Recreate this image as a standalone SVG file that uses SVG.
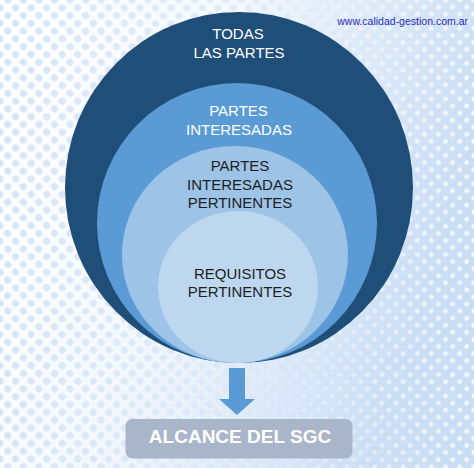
<svg xmlns="http://www.w3.org/2000/svg" width="474" height="468" viewBox="0 0 474 468">
  <defs>
    <linearGradient id="bg" x1="0" y1="0" x2="1" y2="0.3">
      <stop offset="0" stop-color="#ffffff"/>
      <stop offset="0.45" stop-color="#f4f8fd"/>
      <stop offset="1" stop-color="#c9ddf4"/>
    </linearGradient>
    <pattern id="dots" width="11" height="11" patternUnits="userSpaceOnUse" patternTransform="rotate(45)">
      <circle cx="5.5" cy="5.5" r="3.6" fill="#d6e5f6"/>
    </pattern>
    <pattern id="wdots" width="10" height="10" patternUnits="userSpaceOnUse" patternTransform="rotate(45)">
      <circle cx="5" cy="5" r="2.4" fill="#ffffff"/>
    </pattern>
    <linearGradient id="fadeL" x1="0" y1="0" x2="1" y2="0">
      <stop offset="0" stop-color="#fff" stop-opacity="1"/>
      <stop offset="0.55" stop-color="#fff" stop-opacity="0.6"/>
      <stop offset="1" stop-color="#fff" stop-opacity="0.1"/>
    </linearGradient>
    <linearGradient id="fadeR" x1="0" y1="0" x2="1" y2="0">
      <stop offset="0" stop-color="#fff" stop-opacity="0"/>
      <stop offset="0.6" stop-color="#fff" stop-opacity="0.2"/>
      <stop offset="1" stop-color="#fff" stop-opacity="1"/>
    </linearGradient>
    <mask id="mL"><rect width="474" height="468" fill="url(#fadeL)"/></mask>
    <mask id="mR"><rect width="474" height="468" fill="url(#fadeR)"/></mask>
  </defs>
  <style>
    .t { font-family: "Liberation Sans", Arial, sans-serif; font-size: 15px; text-anchor: middle; }
    .w { fill: #ffffff; }
    .d { fill: #1e1e1e; }
  </style>

  <rect width="474" height="468" fill="url(#bg)"/>
  <rect width="474" height="468" fill="url(#dots)" mask="url(#mL)"/>
  <rect width="474" height="468" fill="url(#wdots)" mask="url(#mR)" opacity="0.8"/>

  <text x="468" y="25" font-family="'Liberation Sans', Arial, sans-serif" font-size="10.5" fill="#1f2cc0" text-anchor="end">www.calidad-gestion.com.ar</text>

  <g id="todas-las-partes">
    <ellipse cx="239" cy="187.5" rx="174" ry="175.5" fill="#1f4e79"/>
    <text class="t w" x="238" y="39">TODAS</text>
    <text class="t w" x="239" y="58">LAS PARTES</text>
  </g>
  <g id="partes-interesadas">
    <ellipse cx="237" cy="223" rx="140" ry="140" fill="#5b9bd5"/>
    <text class="t w" x="238.5" y="116">PARTES</text>
    <text class="t w" x="239" y="135">INTERESADAS</text>
  </g>
  <g id="partes-interesadas-pertinentes">
    <ellipse cx="235" cy="254.5" rx="113" ry="108.5" fill="#9dc3e6"/>
    <text class="t d" x="240" y="171">PARTES</text>
    <text class="t d" x="240" y="190">INTERESADAS</text>
    <text class="t d" x="240" y="208">PERTINENTES</text>
  </g>
  <g id="requisitos-pertinentes">
    <ellipse cx="238" cy="287" rx="80" ry="76" fill="#bdd7ee"/>
    <text class="t d" x="240" y="279">REQUISITOS</text>
    <text class="t d" x="240" y="297">PERTINENTES</text>
  </g>

  <g id="connectors">
    <polygon points="229,368 245,368 245,399 255,399 237,415 219,399 229,399" fill="#5b9bd5"/>
  </g>

  <g id="alcance">
    <rect x="125.5" y="419" width="227" height="39.5" rx="7" fill="#a9b6c9"/>
    <text x="240" y="443" font-family="'Liberation Sans', Arial, sans-serif" font-size="19" font-weight="bold" fill="#ffffff" text-anchor="middle">ALCANCE DEL SGC</text>
  </g>
</svg>
